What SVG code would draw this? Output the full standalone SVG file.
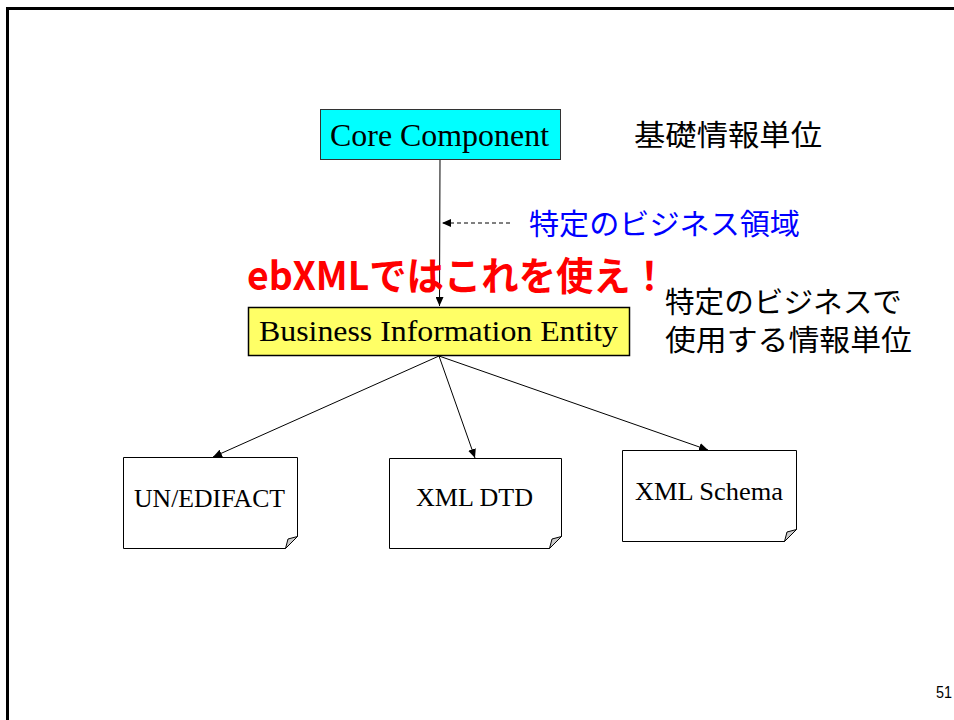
<svg xmlns="http://www.w3.org/2000/svg" width="954" height="720" viewBox="0 0 954 720">
<defs>
<marker id="ah" markerUnits="userSpaceOnUse" markerWidth="10" markerHeight="8" refX="9" refY="4" orient="auto">
<path d="M0,0 L9,4 L0,8 Z" fill="#000"/>
</marker>
<style>
.serif{font-family:"Liberation Serif","Times New Roman",serif;fill:#000}
.jp{font-family:"Noto Sans CJK JP","Noto Sans",sans-serif}
.doc{fill:#fff;stroke:#000;stroke-width:1}
.fold{fill:#ccc;stroke:#000;stroke-width:1}
.conn{stroke:#000;stroke-width:1;fill:none}
</style>
</defs>
<rect x="0" y="0" width="954" height="720" fill="#fff"/>
<rect x="7.5" y="8.5" width="1000" height="800" fill="none" stroke="#000" stroke-width="3"/>

<g id="connectors">
<line class="conn" x1="440" y1="159" x2="439.5" y2="306" marker-end="url(#ah)"/>
<line class="conn" x1="510" y1="223" x2="442" y2="223" stroke-dasharray="4,3" marker-end="url(#ah)"/>
<line class="conn" x1="439" y1="356" x2="213" y2="457" marker-end="url(#ah)"/>
<line class="conn" x1="439" y1="356" x2="475" y2="458" marker-end="url(#ah)"/>
<line class="conn" x1="439" y1="356" x2="708" y2="450" marker-end="url(#ah)"/>
</g>

<g id="core-component">
<rect x="320.5" y="109.5" width="240" height="50" fill="#00FFFF" stroke="#333" stroke-width="1"/>
<text class="serif" x="330" y="146" font-size="31" textLength="219" lengthAdjust="spacingAndGlyphs">Core Component</text>
</g>

<g id="bie">
<rect x="248.5" y="307.5" width="381" height="48" fill="#FFFF66" stroke="#000" stroke-width="1.5"/>
<text class="serif" x="259" y="341" font-size="30" textLength="359" lengthAdjust="spacingAndGlyphs">Business Information Entity</text>
</g>

<g id="un-edifact">
<path class="doc" d="M123.5,457.5 H297.5 V536.5 L285.5,548.5 H123.5 Z"/>
<path class="fold" d="M285.5,548.5 L297.5,536.5 L288,539 Z"/>
<text class="serif" x="134" y="507" font-size="26" textLength="151" lengthAdjust="spacingAndGlyphs">UN/EDIFACT</text>
</g>

<g id="xml-dtd">
<path class="doc" d="M389.5,458.5 H561.5 V536.5 L549.5,548.5 H389.5 Z"/>
<path class="fold" d="M549.5,548.5 L561.5,536.5 L552,539 Z"/>
<text class="serif" x="416" y="506" font-size="26" textLength="117" lengthAdjust="spacingAndGlyphs">XML DTD</text>
</g>

<g id="xml-schema">
<path class="doc" d="M622.5,450.5 H796.5 V529.5 L784.5,541.5 H622.5 Z"/>
<path class="fold" d="M784.5,541.5 L796.5,529.5 L787,532 Z"/>
<text class="serif" x="635" y="500" font-size="26" textLength="148" lengthAdjust="spacingAndGlyphs">XML Schema</text>
</g>

<g id="labels">
<text class="jp" x="634" y="146" font-size="29" fill="#000" textLength="188" lengthAdjust="spacingAndGlyphs">基礎情報単位</text>
<text class="jp" x="529" y="235" font-size="29" fill="#0000FF" textLength="271" lengthAdjust="spacingAndGlyphs">特定のビジネス領域</text>
<text class="jp" x="247" y="290" font-size="39" font-weight="bold" fill="#FF0000" textLength="421" lengthAdjust="spacingAndGlyphs">ebXMLではこれを使え！</text>
<text class="jp" x="665" y="313" font-size="29" fill="#000" textLength="237" lengthAdjust="spacingAndGlyphs">特定のビジネスで</text>
<text class="jp" x="665" y="351" font-size="29" fill="#000" textLength="247" lengthAdjust="spacingAndGlyphs">使用する情報単位</text>
<text x="936" y="698" font-family="Liberation Sans, Arial, sans-serif" font-size="17" fill="#000" textLength="16" lengthAdjust="spacingAndGlyphs">51</text>
</g>
</svg>
